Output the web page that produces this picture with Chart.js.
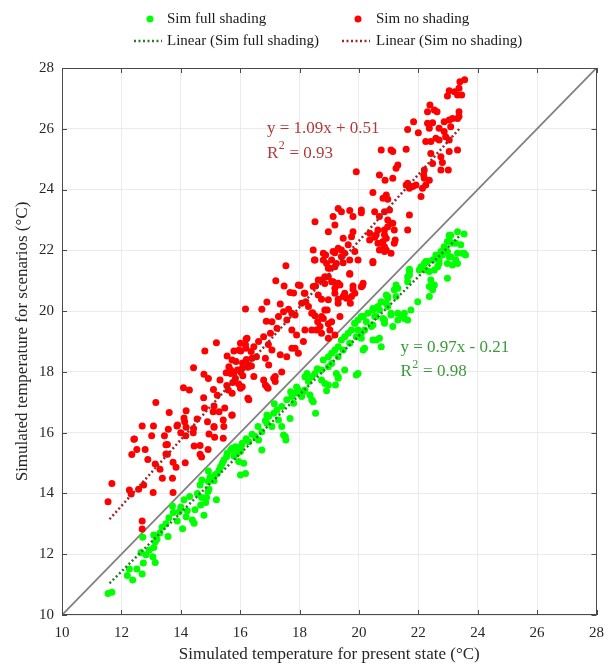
<!DOCTYPE html>
<html><head><meta charset="utf-8">
<script src="https://cdn.jsdelivr.net/npm/chart.js@4/dist/chart.umd.min.js"></script>
<style>html,body{margin:0;padding:0;background:#fff}#wrap{position:relative;width:613px;height:666px}</style>
</head><body><div id="wrap"><canvas id="c"></canvas></div>
<script>
// ---- data ----
const greenPts = [
[11.55,10.71],[11.68,10.75],[12.38,11.15],[12.27,11.51],[12.52,11.51],[12.70,11.35],[12.66,12.06],[12.83,11.98],[12.74,11.71],[12.72,12.56],
[12.94,12.14],[13.09,12.22],[13.14,12.41],[13.06,11.92],[13.14,11.73],[13.09,12.63],[13.37,12.89],[13.57,12.58],[13.50,13.00],[13.72,13.59],
[13.75,13.37],[13.88,13.09],[14.06,12.84],[14.11,13.79],[14.22,13.43],[14.39,13.13],[14.45,13.02],[14.18,13.23],[14.48,13.46],[14.67,13.62],
[14.70,13.87],[14.78,13.28],[14.56,14.00],[14.65,14.28],[14.71,14.44],[14.84,13.70],[14.87,13.87],[14.92,14.06],[14.95,14.14],[14.93,14.39],
[14.98,14.53],[14.93,14.74],[15.20,13.79],[15.12,14.42],[15.15,14.61],[15.23,14.66],[15.29,14.77],[15.34,14.88],[15.40,14.99],[15.45,15.10],
[15.54,15.21],[15.56,15.32],[15.68,15.43],[15.73,15.49],[15.84,15.54],[15.79,15.23],[15.90,15.32],[16.01,15.38],[16.04,15.57],[16.01,14.61],
[16.18,14.66],[16.12,14.99],[15.95,15.05],[16.07,15.65],[16.29,15.70],[16.51,15.87],[16.73,16.03],[16.62,15.76],[16.73,15.43],[16.90,16.31],
[16.96,16.53],[17.13,16.64],[17.24,16.75],[17.40,16.86],[17.29,16.42],[17.07,16.20],[17.40,16.20],[17.52,15.87],[17.54,15.76],[17.68,16.47],
[17.46,15.92],[16.90,16.58],[17.57,17.08],[17.74,17.19],[17.85,17.30],[17.96,17.40],[18.18,17.40],[18.07,17.19],[17.80,16.97],[18.30,17.68],
[18.41,17.84],[18.52,17.95],[18.74,18.06],[18.18,17.84],[18.02,17.30],[18.13,17.35],[18.35,17.24],[18.46,17.02],[18.54,16.64],[18.41,17.08],
[18.80,18.39],[18.97,18.50],[19.08,18.61],[19.19,18.72],[19.30,18.83],[19.41,19.05],[19.52,19.16],[19.64,19.27],[19.75,19.38],[19.86,19.60],
[19.97,19.71],[20.08,19.82],[20.30,19.93],[20.47,20.09],[20.53,19.82],[20.19,19.38],[20.08,19.27],[19.91,19.16],[19.69,18.94],[19.47,18.72],
[19.30,18.50],[19.08,18.28],[18.97,18.17],[18.85,17.62],[18.74,17.73],[19.30,17.84],[19.52,18.06],[19.24,17.95],[18.91,17.38],[18.97,17.57],
[19.21,17.57],[19.30,17.79],[19.91,17.90],[19.97,17.95],[20.47,19.05],[20.14,18.72],[20.19,18.78],[20.75,18.83],[20.69,19.11],[20.58,19.05],
[20.08,19.11],[19.97,19.38],[20.25,19.65],[20.14,19.82],[20.42,19.49],[20.47,20.04],[20.92,20.26],[20.97,20.48],[21.25,20.48],[21.19,20.70],
[20.81,19.76],[20.69,20.04],[20.86,19.60],[21.14,19.49],[21.31,19.71],[21.08,19.87],[21.42,19.82],[21.64,19.71],[21.75,20.04],[21.98,20.31],
[22.37,20.48],[22.48,20.70],[22.54,20.86],[22.37,20.81],[22.42,21.02],[22.98,21.08],[22.37,21.30],[22.03,21.35],[21.70,21.30],[21.64,21.13],
[22.14,21.46],[22.25,21.63],[22.54,21.35],[22.65,21.46],[22.70,21.68],[22.98,21.57],[23.32,21.57],[23.26,21.68],[23.09,21.79],[23.59,21.85],
[23.54,21.90],[23.32,21.90],[22.81,21.85],[22.92,22.01],[23.43,22.18],[23.26,22.23],[22.98,22.29],[23.04,22.50],[23.54,22.54],[23.32,22.61],
[23.09,22.50],[23.04,22.34],[23.15,22.23],[22.87,22.12],[22.76,21.96],[22.98,21.96],[23.48,21.90],[22.59,21.85],[22.48,21.68],[22.31,21.63],
[23.15,21.52],[23.04,21.79],[22.70,21.57],[22.09,21.46],[21.70,21.38],[22.20,21.57],[22.25,21.35],[21.70,21.19],[21.64,20.97],[21.25,20.86],
[21.31,20.75],[20.92,20.53],[20.97,20.42],[20.75,20.31],[20.64,20.15],[20.97,20.15],[21.08,19.93],[21.31,19.93],[21.53,19.93],[21.53,19.76],
[20.58,19.82],[20.86,19.71],[19.86,19.60],[20.47,19.54],[13.30,12.70],[13.95,13.40],[16.40,15.95],[17.90,17.50],[18.60,18.10],[16.60,16.20],
[12.20,11.30],[13.20,12.50],[13.60,13.20],[14.30,13.90],[14.00,13.55],[16.20,15.80],[16.85,16.40],[17.15,16.95],[17.70,17.35],[18.25,17.95]
];
const redPts = [
[11.55,13.73],[11.68,14.33],[12.27,14.11],[12.33,13.98],[12.58,14.14],[12.75,14.28],[13.07,14.03],[13.74,14.03],[12.70,13.09],[12.70,12.83],
[12.44,15.79],[12.52,15.45],[12.35,15.28],[12.80,15.45],[12.89,15.12],[13.14,14.97],[13.50,15.60],[13.50,15.30],[13.74,15.03],[13.84,14.86],
[14.15,15.01],[14.45,15.56],[14.65,15.29],[14.70,15.20],[14.92,15.45],[13.38,14.50],[13.72,14.50],[12.70,16.22],[13.08,16.22],[13.02,15.90],
[13.87,16.22],[14.18,16.18],[14.43,16.14],[15.12,16.18],[15.43,15.82],[12.42,15.78],[13.16,16.99],[13.61,16.66],[13.58,16.11],[13.89,16.25],
[14.11,16.48],[14.13,16.36],[14.18,16.72],[13.55,15.61],[13.55,15.29],[14.09,17.48],[14.29,17.40],[14.42,16.00],[14.65,15.58],[14.17,15.90],
[14.77,17.15],[14.80,16.81],[14.93,17.78],[14.78,17.92],[15.10,17.42],[15.23,17.23],[15.12,16.88],[15.09,16.69],[15.29,16.69],[15.48,16.81],
[15.14,15.85],[15.43,16.42],[15.72,16.57],[14.90,16.36],[15.32,17.73],[15.53,17.97],[15.68,18.06],[15.79,17.97],[15.91,18.06],[16.02,18.03],
[16.09,17.87],[16.26,18.15],[16.38,18.19],[16.21,18.41],[16.08,18.29],[15.86,18.34],[15.56,18.52],[15.79,18.69],[16.02,18.69],[16.19,18.78],
[16.37,18.67],[16.01,18.94],[16.20,19.08],[16.26,17.13],[16.01,17.46],[15.12,16.20],[15.45,16.20],[14.95,15.96],[16.18,20.07],[15.20,18.96],
[14.81,18.69],[14.43,18.14],[15.55,17.55],[15.75,17.65],[15.95,17.60],[15.60,17.40],[16.29,17.08],[15.73,16.58],[17.13,17.79],[17.18,17.68],
[16.85,17.57],[16.94,17.46],[16.46,17.85],[17.54,21.49],[18.50,21.68],[18.88,21.85],[19.19,21.92],[19.52,21.90],[19.86,21.96],[18.91,21.57],
[18.97,21.41],[19.19,21.46],[19.47,21.59],[19.69,21.21],[20.47,21.59],[17.48,20.83],[18.02,20.84],[17.68,20.61],[18.16,20.59],[18.54,20.83],
[18.74,21.02],[18.85,20.91],[18.97,21.13],[19.13,20.97],[19.19,20.75],[19.36,20.86],[18.63,20.53],[18.74,20.39],[18.97,20.37],[19.19,20.59],
[19.30,20.39],[19.47,20.48],[19.58,20.42],[19.80,20.72],[19.86,20.59],[20.12,20.84],[19.71,20.26],[17.35,20.23],[17.63,20.06],[17.74,19.93],
[17.85,19.87],[18.07,20.26],[18.21,20.31],[18.30,20.15],[18.44,19.95],[18.52,19.85],[18.61,19.65],[18.80,19.76],[18.93,20.04],[18.97,19.58],
[19.08,19.65],[18.74,19.27],[16.73,20.06],[17.29,19.82],[17.46,19.98],[17.57,19.71],[17.07,19.65],[16.88,19.67],[17.24,19.44],[17.02,19.27],
[16.79,19.16],[16.62,19.00],[16.46,18.83],[16.23,19.11],[16.18,18.89],[15.96,18.72],[15.73,18.39],[15.62,18.17],[15.68,17.95],[15.84,17.79],
[16.07,17.51],[15.73,17.30],[17.74,18.78],[17.57,18.50],[17.35,18.56],[17.07,18.72],[16.85,18.45],[16.96,18.23],[16.40,18.45],[16.29,18.23],
[16.07,18.12],[16.79,17.73],[16.90,17.51],[17.18,17.85],[18.13,19.00],[17.85,18.78],[17.96,18.61],[17.74,19.38],[17.90,19.21],[18.18,19.38],
[18.41,19.38],[18.57,19.38],[18.69,19.49],[18.97,19.11],[19.02,19.38],[19.19,19.21],[19.91,24.59],[20.69,24.48],[20.88,24.31],[21.31,24.81],
[21.25,24.70],[20.75,25.30],[21.08,25.30],[21.64,24.21],[21.81,24.10],[21.92,24.15],[22.20,24.64],[22.18,24.48],[20.47,23.90],[20.92,23.82],
[20.97,23.68],[19.30,23.38],[19.41,23.27],[19.69,23.31],[20.08,23.33],[19.80,23.11],[20.08,23.24],[20.53,23.27],[20.69,23.11],[20.86,23.27],
[21.03,23.33],[20.97,23.00],[21.14,22.89],[21.19,22.67],[20.86,22.67],[21.70,23.16],[21.64,22.67],[18.52,22.94],[19.13,23.11],[19.19,22.83],
[18.97,22.61],[19.80,22.61],[20.36,22.56],[20.53,22.43],[20.64,22.23],[20.81,22.29],[20.92,22.40],[21.22,22.34],[20.92,22.01],[20.69,22.01],
[18.46,22.01],[18.80,21.90],[19.13,21.96],[19.30,22.07],[19.41,22.01],[19.64,22.18],[19.47,22.40],[19.75,22.45],[18.52,21.68],[18.80,21.68],
[19.08,21.68],[19.24,21.57],[19.41,21.79],[19.69,21.24],[19.69,21.68],[19.97,21.68],[19.02,21.41],[18.85,21.13],[19.08,20.97],[18.63,21.02],
[19.30,20.92],[19.80,20.83],[20.08,20.80],[17.96,20.86],[18.18,20.59],[18.46,20.81],[19.52,20.59],[19.75,20.48],[19.30,20.26],[18.85,20.04],
[18.41,19.93],[18.74,19.82],[19.36,19.82],[23.56,27.61],[23.40,27.55],[23.37,27.33],[23.22,27.22],[23.04,27.25],[22.98,27.08],[23.46,27.11],
[23.32,27.11],[22.39,26.78],[22.54,26.62],[22.63,26.56],[22.31,26.56],[23.37,26.56],[23.37,26.40],[21.84,26.23],[21.64,25.98],[22.00,25.87],
[22.31,26.18],[22.48,26.20],[22.37,26.02],[22.70,26.02],[22.87,26.23],[23.04,26.29],[23.15,26.34],[23.32,26.34],[22.87,25.91],[23.09,26.07],
[22.92,25.74],[23.04,25.63],[22.70,25.63],[22.42,25.58],[22.25,25.58],[22.59,25.69],[22.42,25.19],[22.76,25.08],[23.04,25.25],[23.32,25.30],
[22.48,24.86],[22.81,24.89],[23.01,24.64],[22.76,24.64],[21.14,25.25],[21.59,25.33],[21.14,24.37],[21.59,24.15],[21.70,24.04],[22.25,24.15],
[22.37,24.31],[22.20,24.37],[22.14,24.04],[22.09,23.77],[20.81,23.71],[21.08,22.89],[20.64,22.67],[20.86,22.51],[20.75,22.23],[20.86,22.12],
[21.19,22.23],[20.86,21.96],[20.58,22.51],[20.47,21.63],[20.14,20.92],[20.36,22.34],[21.08,21.90],[20.97,22.78],
[13.30,14.80],[13.45,15.90],[14.00,16.00],[14.55,16.45],[16.55,18.50],[16.95,18.90],[17.40,18.00],[17.80,20.60],[17.20,21.00],[16.90,20.30]
];
const fitX = [11.6, 23.4];
const fitGreenY = [11.04, 22.49];
const fitRedY = [13.15, 26.02];
const identityLine = [10, 28];
const tickValues = [10, 12, 14, 16, 18, 20, 22, 24, 26, 28];
const seriesNames = ['Sim full shading', 'Sim no shading', 'Linear (Sim full shading)', 'Linear (Sim no shading)'];
const eqRed = ['y = 1.09x + 0.51', '0.93'];
const eqGreen = ['y = 0.97x - 0.21', '0.98'];
const eqRedPos = [16.9, 26.0, 25.2];
const eqGreenPos = [21.4, 18.79, 18.0];
const xTitle = 'Simulated temperature for present state (°C)';
const yTitle = 'Simulated temperature for scenarios (°C)';

const C_GREEN = '#00ff00', C_RED = '#ff0000';
const C_GFIT = '#2a7a2a', C_RFIT = '#9a2a2a';
const C_GTXT = '#3a9a3a', C_RTXT = '#b03a3a';
const SERIF = '"Liberation Serif", "DejaVu Serif", serif';

const toXY = a => a.map(p => ({x: p[0], y: p[1]}));

const overlay = {
  id: 'overlay',
  afterDraw(chart) {
    const ctx = chart.ctx, a = chart.chartArea, xs = chart.scales.x, ys = chart.scales.y;
    ctx.save();
    ctx.strokeStyle = '#4a4a4a'; ctx.lineWidth = 1;
    ctx.strokeRect(Math.round(a.left) + 0.5, Math.round(a.top) + 0.5, Math.round(a.right - a.left) - 1, Math.round(a.bottom - a.top) - 1);
    ctx.beginPath();
    tickValues.forEach(v => {
      const px = Math.round(xs.getPixelForValue(v)) + 0.5;
      ctx.moveTo(px, a.bottom); ctx.lineTo(px, a.bottom - 5);
      ctx.moveTo(px, a.top); ctx.lineTo(px, a.top + 5);
      const py = Math.round(ys.getPixelForValue(v)) + 0.5;
      ctx.moveTo(a.left, py); ctx.lineTo(a.left + 5, py);
      ctx.moveTo(a.right, py); ctx.lineTo(a.right - 5, py);
    });
    ctx.stroke();
    // legend
    ctx.font = '15px ' + SERIF; ctx.textBaseline = 'middle';
    const r1 = 19, r2 = 41;
    ctx.fillStyle = C_GREEN; ctx.beginPath(); ctx.arc(150, r1, 3.5, 0, Math.PI * 2); ctx.fill();
    ctx.fillStyle = C_RED; ctx.beginPath(); ctx.arc(358, r1, 3.5, 0, Math.PI * 2); ctx.fill();
    ctx.lineWidth = 2.5; ctx.setLineDash([2, 2.5]);
    ctx.strokeStyle = C_GFIT; ctx.beginPath(); ctx.moveTo(134, r2); ctx.lineTo(162, r2); ctx.stroke();
    ctx.strokeStyle = C_RFIT; ctx.beginPath(); ctx.moveTo(342, r2); ctx.lineTo(370, r2); ctx.stroke();
    ctx.setLineDash([]);
    ctx.fillStyle = '#1a1a1a';
    ctx.fillText(seriesNames[0], 167, r1);
    ctx.fillText(seriesNames[1], 376, r1);
    ctx.fillText(seriesNames[2], 167, r2);
    ctx.fillText(seriesNames[3], 376, r2);
    const drawEq = (eq, pos, color) => {
      const x = xs.getPixelForValue(pos[0]);
      const y1 = ys.getPixelForValue(pos[1]);
      const y2 = ys.getPixelForValue(pos[2]);
      ctx.fillStyle = color; ctx.textBaseline = 'middle';
      ctx.font = '17px ' + SERIF;
      ctx.fillText(eq[0], x, y1);
      ctx.fillText('R', x, y2);
      const rw = ctx.measureText('R').width;
      ctx.font = '12px ' + SERIF;
      ctx.fillText('2', x + rw + 0.5, y2 - 7);
      const sw = ctx.measureText('2').width;
      ctx.font = '17px ' + SERIF;
      ctx.fillText(' = ' + eq[1], x + rw + sw + 1, y2);
    };
    drawEq(eqRed, eqRedPos, C_RTXT);
    drawEq(eqGreen, eqGreenPos, C_GTXT);
    ctx.restore();
  }
};

new Chart(document.getElementById('c'), {
  data: {
    datasets: [
      {type: 'line', label: '1:1', data: identityLine.map(v => ({x: v, y: v})), borderColor: '#808080', borderWidth: 1.8, pointRadius: 0, order: 3},
      {type: 'scatter', label: seriesNames[0], data: toXY(greenPts), backgroundColor: C_GREEN, borderWidth: 0, pointRadius: 3.5, order: 2},
      {type: 'scatter', label: seriesNames[1], data: toXY(redPts), backgroundColor: C_RED, borderWidth: 0, pointRadius: 3.5, order: 2},
      {type: 'line', label: seriesNames[2], data: fitX.map((x, i) => ({x, y: fitGreenY[i]})), borderColor: C_GFIT, borderWidth: 2.5, borderDash: [2, 2.5], pointRadius: 0, order: 1},
      {type: 'line', label: seriesNames[3], data: fitX.map((x, i) => ({x, y: fitRedY[i]})), borderColor: C_RFIT, borderWidth: 2.5, borderDash: [2, 2.5], pointRadius: 0, order: 1}
    ]
  },
  options: {
    responsive: true, maintainAspectRatio: false, animation: false,
    layout: {padding: {top: 68, right: 13, left: 0, bottom: 0}},
    plugins: {legend: {display: false}, tooltip: {enabled: false}},
    scales: {
      x: {
        type: 'linear', min: 10, max: 28,
        afterBuildTicks: s => { s.ticks = tickValues.map(v => ({value: v})); },
        afterFit: s => { s.height = 51; },
        grid: {color: '#ebebeb', drawTicks: false},
        border: {display: false},
        ticks: {font: {family: SERIF, size: 15}, color: '#262626', padding: 9, maxRotation: 0},
        title: {display: true, text: xTitle, font: {family: SERIF, size: 17}, color: '#262626', padding: {top: 0, bottom: 1}}
      },
      y: {
        type: 'linear', min: 10, max: 28,
        afterBuildTicks: s => { s.ticks = tickValues.map(v => ({value: v})); },
        afterFit: s => { s.width = 62; },
        grid: {color: '#ebebeb', drawTicks: false},
        border: {display: false},
        ticks: {font: {family: SERIF, size: 15}, color: '#262626', padding: 8},
        title: {display: true, text: yTitle, font: {family: SERIF, size: 17}, color: '#262626', padding: {top: 12, bottom: 0}}
      }
    }
  },
  plugins: [overlay]
});
</script></body></html>
